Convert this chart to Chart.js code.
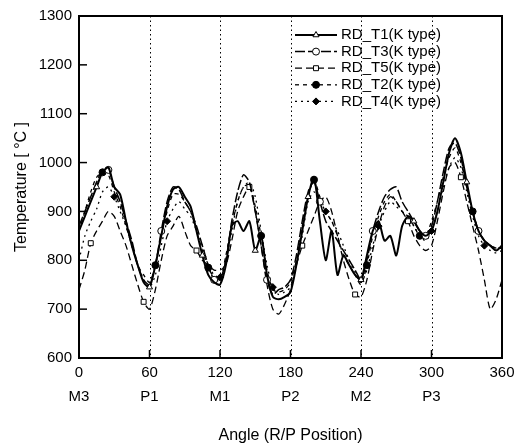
<!DOCTYPE html>
<html>
<head>
<meta charset="utf-8">
<script src="https://cdn.jsdelivr.net/npm/chart.js@4"></script>
<style>
  html, body { margin: 0; padding: 0; background: #fff; }
  #wrap { width: 518px; height: 447px; }
</style>
</head>
<body>
<div id="wrap"><canvas id="chart" width="518" height="447"></canvas></div>
<script>
// angle positions (deg) and the roll / plate labels under each 60 deg tick
const angles = [0,5,10,15,20,25,30,35,40,45,50,55,60,65,70,75,80,85,90,95,100,105,110,115,120,125,130,135,140,145,150,155,160,165,170,175,180,185,190,195,200,205,210,215,220,225,230,235,240,245,250,255,260,265,270,275,280,285,290,295,300,305,310,315,320,325,330,335,340,345,350,355,360];
const posLabels = ["M3", "P1", "M1", "P2", "M2", "P3", ""];
const dividers = [60, 120, 180, 240, 300];

const t1 = [860,890,920,950,980,990,950,935,880,830,790,755,745,790,850,910,945,950,930,910,860,810,770,755,750,790,870,880,860,880,820,850,770,725,720,725,735,790,860,930,970,880,800,860,770,810,790,770,760,810,860,880,840,850,810,870,890,880,860,850,860,900,960,1020,1050,1020,960,900,860,840,830,820,830];
const t3 = [870,900,930,960,985,985,950,920,880,840,790,760,750,790,860,920,950,945,920,900,870,830,790,760,760,800,880,940,975,960,900,830,760,730,740,745,760,810,880,940,960,920,880,860,840,820,800,780,760,800,860,900,930,945,950,920,900,880,860,850,870,920,980,1030,1040,1010,950,900,860,840,830,825,825];
const t5 = [740,780,835,860,880,900,890,860,830,790,750,715,700,740,800,850,870,890,860,830,820,800,790,780,780,790,840,900,930,950,900,830,750,700,690,710,740,790,830,860,890,920,930,900,850,800,760,730,725,760,820,870,910,930,920,900,880,850,830,820,830,880,940,990,1000,970,920,870,820,760,700,720,760];
const t2 = [860,900,940,970,980,975,940,910,870,830,790,770,755,790,850,900,935,935,920,900,860,820,785,765,760,810,870,920,950,955,910,850,780,740,735,740,755,800,870,930,965,930,900,880,850,810,790,770,750,790,850,890,920,935,920,900,890,870,850,850,880,920,970,1010,1030,1000,950,900,860,840,830,825,825];
const t4 = [800,850,880,905,940,950,930,900,870,830,790,760,745,770,830,880,905,920,905,890,860,830,790,770,765,800,860,920,950,960,930,860,790,745,730,735,745,790,850,920,940,920,900,880,860,830,800,775,755,780,830,870,900,920,910,900,890,870,850,840,860,900,950,990,1010,990,940,890,850,830,820,815,820];

const seriesNames = ["RD_T1(K type)", "RD_T3(K type)", "RD_T5(K type)", "RD_T2(K type)", "RD_T4(K type)"];

function pts(vals) {
  return vals.map((v, i) => ({ x: angles[i], y: v }));
}

// show a marker only every few samples, like the original plot
function every(offset) {
  return ctx => (ctx.dataIndex % 9 === offset ? 3.5 : 0);
}

const FONT = "'Liberation Sans', Arial, sans-serif";

const datasets = [
  { label: seriesNames[0], data: pts(t1), borderWidth: 2, borderDash: [], pointStyle: "triangle", off: 3, bg: "#fff" },
  { label: seriesNames[1], data: pts(t3), borderWidth: 1.5, borderDash: [10, 3], pointStyle: "circle", off: 5, bg: "#fff" },
  { label: seriesNames[2], data: pts(t5), borderWidth: 1.3, borderDash: [7, 4], pointStyle: "rect", off: 2, bg: "#fff" },
  { label: seriesNames[3], data: pts(t2), borderWidth: 1.3, borderDash: [4, 4], pointStyle: "circle", off: 4, bg: "#000" },
  { label: seriesNames[4], data: pts(t4), borderWidth: 1.3, borderDash: [2, 4], pointStyle: "rectRot", off: 6, bg: "#000" }
].map(d => ({
  label: d.label,
  data: d.data,
  borderColor: "#000",
  backgroundColor: d.bg,
  pointBorderColor: "#000",
  pointBackgroundColor: d.bg,
  pointBorderWidth: 1,
  borderWidth: d.borderWidth,
  borderDash: d.borderDash,
  pointStyle: d.pointStyle,
  pointRadius: every(d.off),
  tension: 0.25,
  fill: false
}));

// frame, dotted dividers, inward ticks and the legend box inside the plot
const decor = {
  id: "decor",
  beforeDatasetsDraw(chart) {
    const { ctx, chartArea: a, scales } = chart;
    ctx.save();
    ctx.strokeStyle = "#000";
    ctx.lineWidth = 1;
    ctx.setLineDash([1.5, 3]);
    dividers.forEach(v => {
      const x = Math.round(scales.x.getPixelForValue(v)) + 0.5;
      ctx.beginPath();
      ctx.moveTo(x, a.top);
      ctx.lineTo(x, a.bottom);
      ctx.stroke();
    });
    ctx.restore();
  },
  afterDraw(chart) {
    const { ctx, chartArea: a, scales } = chart;
    ctx.save();
    ctx.strokeStyle = "#000";
    ctx.lineWidth = 2;
    ctx.strokeRect(a.left, a.top, a.right - a.left, a.bottom - a.top);
    ctx.lineWidth = 1.5;
    dividers.forEach(v => {
      const x = scales.x.getPixelForValue(v);
      ctx.beginPath();
      ctx.moveTo(x, a.bottom);
      ctx.lineTo(x, a.bottom - 8);
      ctx.stroke();
    });
    scales.y.ticks.forEach(t => {
      if (t.value <= 600 || t.value >= 1300) return;
      const y = scales.y.getPixelForValue(t.value);
      ctx.beginPath();
      ctx.moveTo(a.left, y);
      ctx.lineTo(a.left + 8, y);
      ctx.stroke();
    });

    // legend
    const lx = a.left + 216, ly = a.top + 19, row = 16.6;
    ctx.font = "15px " + FONT;
    ctx.textBaseline = "middle";
    ctx.fillStyle = "#000";
    chart.data.datasets.forEach((ds, i) => {
      const y = ly + i * row;
      ctx.lineWidth = ds.borderWidth;
      ctx.setLineDash(ds.borderDash);
      ctx.beginPath();
      ctx.moveTo(lx, y);
      ctx.lineTo(lx + 42, y);
      ctx.stroke();
      ctx.setLineDash([]);
      ctx.lineWidth = 1;
      ctx.fillStyle = ds.pointBackgroundColor;
      Chart.helpers.drawPoint(ctx, { pointStyle: ds.pointStyle, radius: 3.5, borderWidth: 1 }, lx + 21, y);
      ctx.fillStyle = "#000";
      ctx.fillText(ds.label, lx + 46, y);
    });
    ctx.restore();
  }
};

new Chart(document.getElementById("chart"), {
  type: "line",
  data: { datasets },
  options: {
    responsive: false,
    animation: false,
    layout: { padding: { top: 13, right: 16, left: 0, bottom: 0 } },
    plugins: { legend: { display: false }, tooltip: { enabled: false } },
    scales: {
      x: {
        type: "linear",
        min: 0,
        max: 360,
        grid: { display: false, drawTicks: false },
        border: { display: false },
        afterFit(scale) { scale.height = 89; },
        ticks: {
          stepSize: 60,
          padding: 2,
          color: "#000",
          font: { family: FONT, size: 15, lineHeight: 1.65 },
          callback: (v, i) => [String(v), posLabels[i] || ""]
        },
        title: {
          display: true,
          text: "Angle (R/P Position)",
          color: "#000",
          font: { family: FONT, size: 16 },
          padding: { top: 0, bottom: 2 }
        }
      },
      y: {
        min: 600,
        max: 1300,
        grid: { display: false, drawTicks: false },
        border: { display: false },
        afterFit(scale) { scale.width = 79; },
        ticks: {
          stepSize: 100,
          padding: 7,
          color: "#000",
          font: { family: FONT, size: 15 },
          callback: v => String(v)
        },
        title: {
          display: true,
          text: "Temperature [ °C ]",
          color: "#000",
          font: { family: FONT, size: 16 },
          padding: { top: 12, bottom: 0 }
        }
      }
    }
  },
  plugins: [decor]
});
</script>
</body>
</html>
